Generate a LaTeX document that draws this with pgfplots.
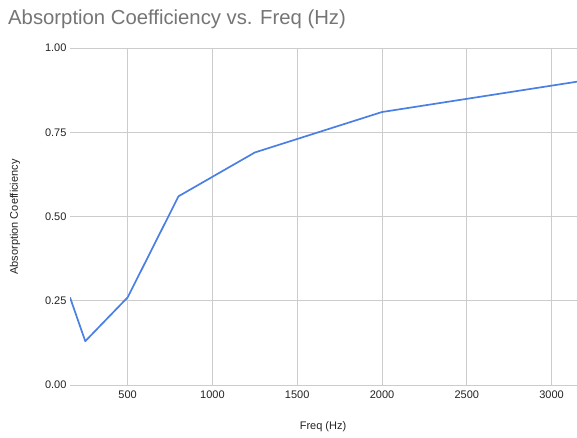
\documentclass[border=0pt]{standalone}
\usepackage{pgfplots}
\pgfplotsset{compat=1.18}
\usepackage{fontspec}
\setmainfont{Liberation Sans}
\definecolor{lineblue}{HTML}{4A7FE3}
\definecolor{gridgray}{HTML}{CCCCCC}
\definecolor{titlegray}{HTML}{757575}
\definecolor{labelcol}{HTML}{222222}
\begin{document}
\begin{tikzpicture}[x=1pt,y=1pt]
\useasboundingbox (0,0) rectangle (577,438);
\node[anchor=base west, text=titlegray, font=\fontsize{20.3}{23}\selectfont, inner sep=0pt] at (8,413) {Absorption Coefficiency vs. Freq (Hz)};
\begin{axis}[
  at={(70pt,53pt)}, anchor=south west,
  scale only axis, width=507pt, height=337pt,
  xmin=160, xmax=3150, ymin=0, ymax=1,
  xtick={500,1000,1500,2000,2500,3000},
  ytick={0,0.25,0.5,0.75,1},
  yticklabel style={/pgf/number format/.cd, fixed, fixed zerofill, precision=2},
  /pgf/number format/assume math mode=true,
  scaled x ticks=false,
  xticklabel style={/pgf/number format/.cd, 1000 sep={}},
  tick label style={font=\fontsize{11}{13}\selectfont, text=labelcol},
  grid=major, major grid style={gridgray, line width=0.8pt},
  axis line style={draw=none},
  axis x line*=bottom, axis y line*=left,
  tick style={draw=none},
  xticklabel shift=2pt, yticklabel shift=0pt,
  clip=true,
]
\addplot[lineblue, line width=1.7pt, line join=round] coordinates {
(160,0.26) (250,0.13) (500,0.26) (800,0.56) (1250,0.69) (2000,0.81) (3150,0.90)
};
\draw[gray!90!black, line width=0.9pt] (axis cs:160,0) -- (axis cs:3150,0);
\end{axis}
\node[text=labelcol, font=\fontsize{11}{13}\selectfont] at (323,11) {Freq (Hz)};
\node[text=labelcol, font=\fontsize{11}{13}\selectfont, rotate=90] at (15,221) {Absorption Coefficiency};
\end{tikzpicture}
\end{document}
